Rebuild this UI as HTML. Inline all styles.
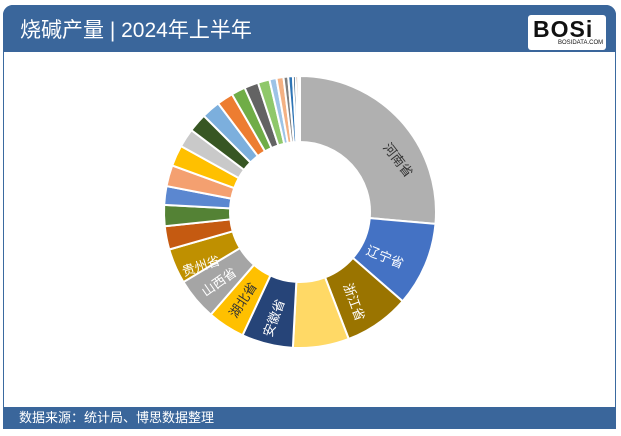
<!DOCTYPE html>
<html><head><meta charset="utf-8"><style>
body{margin:0;width:621px;height:436px;background:#fff;overflow:hidden;font-family:"Liberation Sans","Noto Sans CJK SC",sans-serif}
.frame{position:absolute;left:3px;top:5px;width:613px;height:424px;border:1px solid #3a6aa0;border-radius:10px 10px 0 0;box-sizing:border-box}
.hdr{position:absolute;left:3px;top:5px;width:613px;height:47px;background:#3a669b;border-radius:10px 10px 0 0}
.hdr .t{position:absolute;left:17px;top:9px;color:#fff;font-size:21px}
.logo{position:absolute;left:525px;top:10px;width:78px;height:35px;background:#fff;border-radius:3px}
.logo b{position:absolute;left:5px;top:1px;font-size:23px;font-weight:900;color:#111;letter-spacing:1px;font-family:"Liberation Sans",sans-serif}
.logo i{position:absolute;left:30px;top:25px;font-size:6px;font-style:normal;color:#111}
.ftr{position:absolute;left:3px;top:407px;width:613px;height:22px;background:#3a669b;color:#fff;font-size:13px;line-height:22px;padding-left:16px;box-sizing:border-box}
svg{position:absolute;left:0;top:0}
</style></head><body>
<div class="frame"></div>
<div class="hdr"><div class="t">烧碱产量 | 2024年上半年</div><div class="logo"><b>BOSi</b><i>BOSIDATA.COM</i></div></div>
<svg width="621" height="436" id="s"></svg>
<div class="ftr">数据来源：统计局、博思数据整理</div>
<script>
var cx=300,cy=212,R=136,r=70;
var sl=[[0,95,'#b0b0b0'],[95,131,'#4472c4'],[131,159,'#9a7400'],[159,183,'#ffd966'],[183,205,'#264478'],[205,221,'#ffc000'],[221,239,'#a5a5a5'],[239,254,'#bf9000'],
[254,264,'#c55a11'],[264,273,'#548235'],[273,281,'#5b87d0'],[281,290,'#f4a070'],[290,299,'#ffc000'],[299,307,'#c9c9c9'],[307,315,'#375623'],[315,323,'#7cafdd'],[323,330,'#ed7d31'],[330,336,'#70ad47'],[336,342,'#636363'],[342,347,'#8fc86a'],[347,350,'#9dc3e6'],[350,353,'#f4b183'],[353,355,'#7f7f7f'],[355,357,'#2e75b6'],[357,358.2,'#1f4e79'],[358.2,359.2,'#843c0c'],[359.2,360,'#333']];
function p(a,rad){a=(a-90)*Math.PI/180;return [cx+rad*Math.cos(a),cy+rad*Math.sin(a)];}
var h='';
sl.forEach(function(s){var a=p(s[0],R),b=p(s[1],R),c=p(s[1],r),d=p(s[0],r),l=(s[1]-s[0])>180?1:0;
h+='<path d="M'+a+' A'+R+' '+R+' 0 '+l+' 1 '+b+' L'+c+' A'+r+' '+r+' 0 '+l+' 0 '+d+'Z" fill="'+s[2]+'" stroke="#fff" stroke-width="2"/>';});
var lb=[['河南省',398,160,52,'#333'],['辽宁省',385,257,22,'#fff'],['浙江省',354,302,70,'#fff'],['安徽省',274,318,-70,'#fff'],['湖北省',243,300,-57,'#333'],['山西省',219,282,-35,'#fff'],['贵州省',201,266,-18,'#fff']];
lb.forEach(function(t){h+='<text x="'+t[1]+'" y="'+t[2]+'" transform="rotate('+t[3]+' '+t[1]+' '+t[2]+')" text-anchor="middle" dominant-baseline="central" font-size="13" fill="'+t[4]+'" font-family="Liberation Sans,Noto Sans CJK SC,sans-serif">'+t[0]+'</text>';});
document.getElementById('s').innerHTML=h;
</script>
</body></html>
